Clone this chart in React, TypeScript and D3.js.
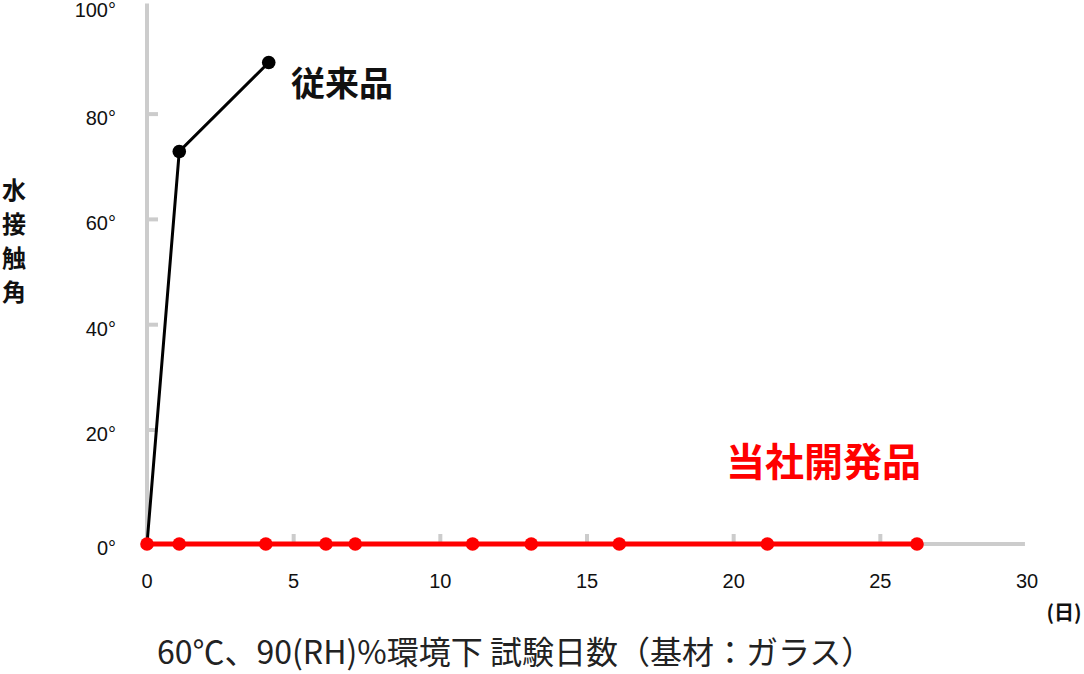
import React from "react";
import * as d3 from "d3";

const xTicks = [0, 5, 10, 15, 20, 25, 30];
const yTicks = [0, 20, 40, 60, 80, 100];
const conventionalDays = [0, 1.1, 4.15];
const conventionalAngle = [0, 72.9, 89.8];
const developedDays = [0, 1.1, 4.05, 6.1, 7.1, 11.1, 13.1, 16.1, 21.15, 26.25];
const developedAngle = [0, 0, 0, 0, 0, 0, 0, 0, 0, 0];
const seriesNames = ["従来品", "当社開発品"];
const yTitle = ["水", "接", "触", "角"];
const xTitle = "60℃、90(RH)%環境下 試験日数（基材：ガラス）";
const xUnit = "(日)";

const W = 1084;
const H = 674;

export default function App() {
  const x = d3.scaleLinear().domain([0, 30]).range([147, 1027]);
  const y = d3.scaleLinear().domain([0, 20, 100]).range([544, 430, 8.8]);
  const line = d3
    .line<[number, number]>()
    .x((d) => x(d[0]))
    .y((d) => y(d[1]));
  const conv: [number, number][] = conventionalDays.map((d, i) => [d, conventionalAngle[i]]);
  const dev: [number, number][] = developedDays.map((d, i) => [d, developedAngle[i]]);
  const tickFont = "'Liberation Sans', Arial, sans-serif";
  const cjk = "'Noto Sans CJK JP', sans-serif";
  return (
    <svg
      width={W}
      height={H}
      style={{ position: "absolute", left: 0, top: 0, background: "#fff" }}
    >
      {/* axes */}
      <line x1={x(0)} x2={x(0)} y1={y(101)} y2={y(0)} stroke="#cccccc" strokeWidth={4} />
      <line x1={x(0)} x2={x(29.93)} y1={y(0)} y2={y(0)} stroke="#cccccc" strokeWidth={4} />
      {yTicks.filter((t) => t > 0 && t < 100).map((t) => (
        <line key={"yt" + t} x1={x(0)} x2={x(0) + 11} y1={y(t)} y2={y(t)} stroke="#cccccc" strokeWidth={4} />
      ))}
      {xTicks.filter((t) => t > 0 && t < 30).map((t) => (
        <line key={"xt" + t} x1={x(t)} x2={x(t)} y1={y(0)} y2={y(0) - 10} stroke="#cccccc" strokeWidth={4} />
      ))}
      {yTicks.map((t) => (
        <text
          key={"yl" + t}
          x={116}
          y={y(t) + (t === 100 ? 8 : 11)}
          textAnchor="end"
          fontFamily={tickFont}
          fontSize={20}
          fill="#111"
        >
          {t + "°"}
        </text>
      ))}
      {xTicks.map((t) => (
        <text
          key={"xl" + t}
          x={x(t)}
          y={588}
          textAnchor="middle"
          fontFamily={tickFont}
          fontSize={20}
          fill="#111"
        >
          {t}
        </text>
      ))}
      {/* conventional series */}
      <path d={line(conv) || ""} fill="none" stroke="#000" strokeWidth={3} />
      {conv.slice(1).map((d, i) => (
        <circle key={"c" + i} cx={x(d[0])} cy={y(d[1])} r={6.8} fill="#000" />
      ))}
      {/* developed series */}
      <path d={line(dev) || ""} fill="none" stroke="#ff0000" strokeWidth={5} />
      {dev.map((d, i) => (
        <circle key={"d" + i} cx={x(d[0])} cy={y(d[1])} r={6.8} fill="#ff0000" />
      ))}
      {/* series labels */}
      <text x={291} y={96} fontFamily={cjk} fontWeight={700} fontSize={34} fill="#111">
        {seriesNames[0]}
      </text>
      <text x={726} y={476} fontFamily={cjk} fontWeight={700} fontSize={39} fill="#ff0000">
        {seriesNames[1]}
      </text>
      {/* y title */}
      {yTitle.map((c, i) => (
        <text
          key={"yt" + i}
          x={14}
          y={199 + i * 34}
          textAnchor="middle"
          fontFamily={cjk}
          fontWeight={700}
          fontSize={24}
          fill="#111"
        >
          {c}
        </text>
      ))}
      {/* x unit */}
      <text x={1064} y={620} textAnchor="middle" fontFamily={cjk} fontWeight={700} fontSize={20} fill="#111">
        {xUnit}
      </text>
      {/* x title */}
      <text x={157} y={664} fontFamily={cjk} fontWeight={400} fontSize={32} fill="#222">
        {xTitle}
      </text>
    </svg>
  );
}
